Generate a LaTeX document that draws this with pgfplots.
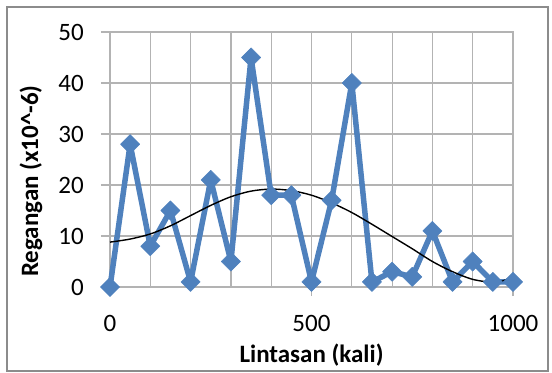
\documentclass[border=0pt]{standalone}
\usepackage{pgfplots}
\pgfplotsset{compat=1.18}
\usepackage{fontspec}
\setmainfont{Carlito}
\definecolor{exblue}{HTML}{4F81BD}
\definecolor{gridgray}{HTML}{B3B3B3}
\definecolor{framegray}{HTML}{8C8C8C}
\begin{document}
\begin{tikzpicture}[font=\fontsize{25bp}{30bp}\selectfont]
\useasboundingbox (-110bp,-86bp) rectangle (442bp,287bp);
\draw[framegray, line width=1.3bp] (-103bp,-84bp) rectangle (438bp,280bp);
\begin{axis}[
  at={(0,0)}, anchor=south west,
  scale only axis, width=403bp, height=255bp,
  xmin=0, xmax=1000, ymin=0, ymax=50,
  xtick={0,500,1000}, minor xtick={100,200,300,400,600,700,800,900},
  ytick={0,10,20,30,40,50},
  grid=both,
  major grid style={gridgray, line width=1.2bp},
  minor grid style={gridgray, line width=1.2bp},
  tick align=outside, tick pos=left,
  major tick length=9bp, minor tick length=0pt,
  tick style={gridgray, line width=1.2bp},
  axis line style={gridgray, line width=1.2bp},
  /pgf/number format/assume math mode=true,
  /pgf/number format/1000 sep={},
  scaled x ticks=false,
  yticklabel style={anchor=east, inner sep=0pt, xshift=-17bp},
  xticklabel style={anchor=north, inner sep=0pt, yshift=-19bp},
  every axis x label/.style={at={(axis description cs:0.5,0)}, yshift=-68bp, anchor=center, font=\fontsize{25bp}{30bp}\selectfont\bfseries},
  every axis y label/.style={at={(axis description cs:0,0)}, xshift=-79bp, yshift=106bp, rotate=90, anchor=center, font=\fontsize{25bp}{30bp}\selectfont\bfseries},
  xlabel={Lintasan (kali)},
  ylabel={Regangan (x10\^{}-6)},
  clip=false,
]
\addplot[exblue, line width=5.5bp, line join=round, mark=square*, mark size=6.8bp,
  mark options={solid, rotate=45, fill=exblue, draw=exblue, line width=0.5bp}]
coordinates {
(0,0) (50,28) (100,8) (150,15) (200,1) (250,21) (300,5) (350,45) (400,18) (450,18)
(500,1) (550,17) (600,40) (650,1) (700,3) (750,2) (800,11) (850,1) (900,5) (950,1) (1000,1)
};
\addplot[black, line width=1.4bp, smooth, no marks]
coordinates {
(0,8.8) (50,9.4) (100,10.4) (150,12.0) (200,14.0) (250,16.0) (300,17.7) (350,18.8)
(400,19.2) (450,18.9) (500,18.0) (550,16.5) (600,14.6) (650,12.3) (700,9.9) (750,7.5)
(800,5.0) (850,3.0) (900,1.5) (950,0.9) (975,1.2) (1000,2.1)
};
\end{axis}
\end{tikzpicture}
\end{document}
